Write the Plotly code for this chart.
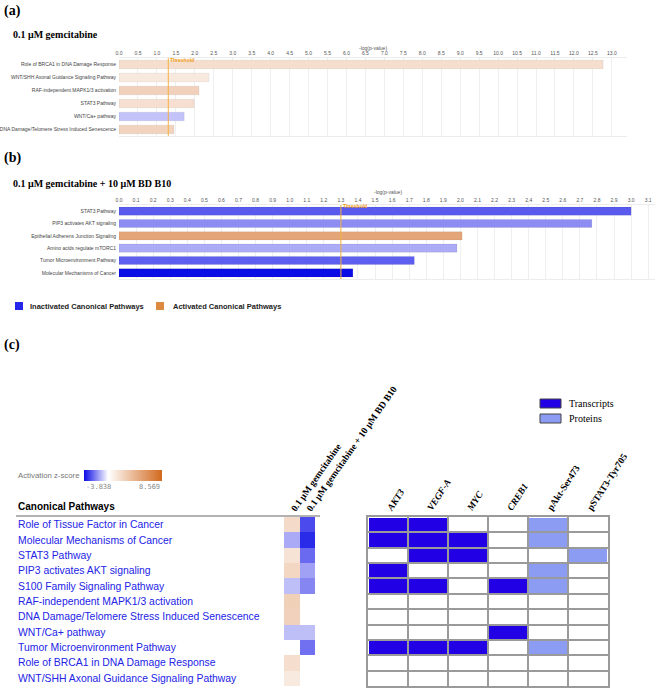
import plotly.graph_objects as go

W, H = 658, 689

# ---------------- data ----------------
# Panel (a): 0.1 uM gemcitabine
a_pathways = [
    "Role of BRCA1 in DNA Damage Response",
    "WNT/SHH Axonal Guidance Signaling Pathway",
    "RAF-independent MAPK1/3 activation",
    "STAT3 Pathway",
    "WNT/Ca+ pathway",
    "DNA Damage/Telomere Stress Induced Senescence",
]
a_logp = [12.77, 2.37, 2.11, 1.98, 1.72, 1.45]
a_zscore = [1.9, 1.25, 2.6, 1.8, -0.94, 2.5]

# Panel (b): 0.1 uM gemcitabine + 10 uM BD B10
b_pathways = [
    "STAT3 Pathway",
    "PIP3 activates AKT signaling",
    "Epithelial Adherens Junction Signaling",
    "Amino acids regulate mTORC1",
    "Tumor Microenvironment Pathway",
    "Molecular Mechanisms of Cancer",
]
b_logp = [3.00, 2.77, 2.01, 1.98, 1.73, 1.37]
b_zscore = [-2.59, -1.8, 5.1, -1.32, -2.52, -3.8]

threshold = 1.3

# Panel (c)
c_pathways = [
    "Role of Tissue Factor in Cancer",
    "Molecular Mechanisms of Cancer",
    "STAT3 Pathway",
    "PIP3 activates AKT signaling",
    "S100 Family Signaling Pathway",
    "RAF-independent MAPK1/3 activation",
    "DNA Damage/Telomere Stress Induced Senescence",
    "WNT/Ca+ pathway",
    "Tumor Microenvironment Pathway",
    "Role of BRCA1 in DNA Damage Response",
    "WNT/SHH Axonal Guidance Signaling Pathway",
]
c_conditions = ["0.1 μM gemcitabine", "0.1 μM gemcitabine + 10 μM BD B10"]
c_z_gem = [2.1, -1.33, 1.6, 2.3, -1.0, 2.7, 2.6, -1.0, None, 1.9, 1.2]
c_z_gem_bd = [-2.84, -3.34, -2.33, -1.49, -1.9, None, None, -1.0, -2.24, None, None]
z_min, z_max = -3.838, 8.569

c_markers = ["AKT3", "VEGF-A", "MYC", "CREB1", "pAkt-Ser473", "pSTAT3-Tyr705"]
c_marker_italic = [True, True, True, True, False, False]
# 0 = none, 1 = transcripts, 2 = proteins
c_evidence = [
    [1, 1, 0, 0, 2, 0],
    [1, 1, 1, 0, 2, 0],
    [0, 1, 1, 0, 0, 2],
    [1, 0, 0, 0, 2, 0],
    [1, 1, 0, 1, 2, 0],
    [0, 0, 0, 0, 0, 0],
    [0, 0, 0, 0, 0, 0],
    [0, 0, 0, 1, 0, 0],
    [1, 1, 1, 0, 2, 0],
    [0, 0, 0, 0, 0, 0],
    [0, 0, 0, 0, 0, 0],
]

# ---------------- helpers / styles ----------------
def px(x):
    return x / W

def py(y):
    return 1 - y / H

white_pos = -z_min / (z_max - z_min)
ZSCALE = [[0, "#0a0ae6"], [white_pos, "#ffffff"], [1, "#d2691e"]]
T_COL, P_COL = "#2200e6", "#8c9cf2"
SANS = "Liberation Sans, Arial, sans-serif"
SERIF = "Liberation Serif, Times New Roman, serif"

fig = go.Figure()

# Panel (a) bars
fig.add_trace(go.Bar(
    x=a_logp, y=a_pathways, orientation="h", width=0.66,
    marker=dict(color=a_zscore, colorscale=ZSCALE, cmin=z_min, cmax=z_max,
                line=dict(color="rgba(0,0,0,0.10)", width=0.6)),
    xaxis="x", yaxis="y", showlegend=False, hoverinfo="skip"))

# Panel (b) bars
fig.add_trace(go.Bar(
    x=b_logp, y=b_pathways, orientation="h", width=0.66,
    marker=dict(color=b_zscore, colorscale=ZSCALE, cmin=z_min, cmax=z_max,
                line=dict(color="rgba(0,0,0,0.10)", width=0.6)),
    xaxis="x2", yaxis="y2", showlegend=False, hoverinfo="skip"))

# Panel (c) z-score heatmap
fig.add_trace(go.Heatmap(
    z=[[g, b] for g, b in zip(c_z_gem, c_z_gem_bd)],
    x=c_conditions, y=c_pathways,
    colorscale=ZSCALE, zmin=z_min, zmax=z_max,
    xaxis="x3", yaxis="y3", hoverinfo="skip",
    colorbar=dict(orientation="h", x=px(123), xanchor="center", xref="paper",
                  y=py(481), yanchor="bottom", yref="paper",
                  len=78, lenmode="pixels", thickness=11, thicknessmode="pixels",
                  outlinewidth=0, showticklabels=False, ticks="", xpad=0, ypad=0)))

# Panel (c) evidence grid
fig.add_trace(go.Heatmap(
    z=c_evidence, x=c_markers, y=c_pathways,
    colorscale=[[0, "#ffffff"], [0.25, "#ffffff"], [0.25, T_COL], [0.75, T_COL],
                [0.75, P_COL], [1, P_COL]],
    zmin=0, zmax=2, xgap=2, ygap=2, showscale=False,
    xaxis="x4", yaxis="y4", hoverinfo="skip"))

bar_x_common = dict(side="top", showgrid=True, gridcolor="#efefef", gridwidth=1,
                    zeroline=False, showline=True, linecolor="#ececec", mirror=True,
                    ticks="", tick0=0, tickformat=".1f",
                    tickfont=dict(family=SANS, size=5, color="#555"))
bar_y_common = dict(autorange="reversed", showgrid=False, zeroline=False,
                    showline=False, ticks="", ticklabelstandoff=2,
                    tickfont=dict(family=SANS, size=5, color="#444"))

marker_ticktext = [
    ("<b><i>%s</i></b>" % m) if it else ("<b>%s</b>" % m)
    for m, it in zip(c_markers, c_marker_italic)
]

fig.update_layout(
    width=W, height=H, autosize=False,
    margin=dict(l=0, r=0, t=0, b=0, autoexpand=False),
    paper_bgcolor="white", plot_bgcolor="white",
    bargap=0.3,
    xaxis=dict(domain=[px(119), px(627)], range=[0, 13.4], dtick=0.5, anchor="y", **bar_x_common),
    yaxis=dict(domain=[py(136), py(58)], anchor="x", **bar_y_common),
    xaxis2=dict(domain=[px(119), px(655)], range=[0, 3.14], dtick=0.1, anchor="y2", **bar_x_common),
    yaxis2=dict(domain=[py(279), py(205)], anchor="x2", **bar_y_common),
    xaxis3=dict(domain=[px(284), px(315)], anchor="y3", side="top", type="category",
                tickangle=-55, ticks="", showgrid=False, zeroline=False, showline=False,
                tickvals=c_conditions, ticktext=["<b>%s</b>" % c for c in c_conditions],
                tickfont=dict(family=SERIF, size=9.5, color="black")),
    yaxis3=dict(domain=[py(686), py(517)], anchor="x3", type="category",
                autorange="reversed", showticklabels=False, ticks="",
                showgrid=False, zeroline=False, showline=False),
    xaxis4=dict(domain=[px(368), px(608)], anchor="y4", side="top", type="category",
                tickson="boundaries", showgrid=True, gridcolor="#9a9a9a", gridwidth=1.5,
                showline=True, mirror=True, linecolor="#9a9a9a", linewidth=1.5,
                tickangle=-57, ticks="", zeroline=False, ticklabelstandoff=-2,
                tickvals=c_markers, ticktext=marker_ticktext,
                tickfont=dict(family=SERIF, size=9.5, color="black")),
    yaxis4=dict(domain=[py(686), py(517)], anchor="x4", type="category",
                autorange="reversed", tickson="boundaries", showticklabels=False,
                ticks="", showgrid=True, gridcolor="#9a9a9a", gridwidth=1.5,
                showline=True, mirror=True, linecolor="#9a9a9a", linewidth=1.5,
                zeroline=False),
)

ann = []
shapes = []

def text(x, y, s, size, family=SANS, color="black", xanchor="left", yanchor="middle", **kw):
    ann.append(dict(x=px(x), y=py(y), xref="paper", yref="paper", text=s,
                    showarrow=False, xanchor=xanchor, yanchor=yanchor,
                    font=dict(family=family, size=size, color=color), **kw))

# panel labels and titles
text(2, 11, "<b>(a)</b>", 14, SERIF)
text(11, 34, "<b>0.1 μM gemcitabine</b>", 10, SERIF)
text(2, 158, "<b>(b)</b>", 14, SERIF)
text(11, 183, "<b>0.1 μM gemcitabine + 10 μM BD B10</b>", 10, SERIF)
text(2, 345, "<b>(c)</b>", 14, SERIF)

# axis titles
text(373, 48, "-log(p-value)", 5, SANS, "#555", xanchor="center")
text(388, 192, "-log(p-value)", 5, SANS, "#555", xanchor="center")

# threshold lines + labels
for xr, yr, ysh in (("x", "y", -2), ("x2", "y2", -1)):
    shapes.append(dict(type="line", xref=xr, yref=yr + " domain", x0=threshold, x1=threshold,
                       y0=0, y1=1, line=dict(color="#f5b041", width=1), layer="above"))
    ann.append(dict(x=threshold, y=1, xref=xr, yref=yr + " domain", text="<b>Threshold</b>",
                    showarrow=False, xanchor="left", yanchor="middle", yshift=ysh,
                    font=dict(family=SANS, size=5, color="#f39c12")))

# legend of panel (b)
shapes.append(dict(type="rect", xref="paper", yref="paper", x0=px(15), x1=px(23),
                   y0=py(310), y1=py(302), fillcolor="#2626ea", line=dict(width=0)))
text(28, 306, "<b>Inactivated Canonical Pathways</b>", 7.5, SANS, "#222")
shapes.append(dict(type="rect", xref="paper", yref="paper", x0=px(156), x1=px(164),
                   y0=py(310), y1=py(302), fillcolor="#db8a3f", line=dict(width=0)))
text(171, 306, "<b>Activated Canonical Pathways</b>", 7.5, SANS, "#222")

# colorbar labels for panel (c)
text(16, 475, "Activation z-score", 7.8, SANS, "#777")
text(84, 487, "-3.838", 7, "DejaVu Sans Mono", "#888")
text(162, 487, "8.569", 7, "DejaVu Sans Mono", "#888", xanchor="right")

# Canonical Pathways header + rule
text(16, 506, "<b>Canonical Pathways</b>", 10, SANS, "black")
shapes.append(dict(type="line", xref="paper", yref="paper", x0=px(16), x1=px(320),
                   y0=py(516), y1=py(516), line=dict(color="#999", width=1.5)))

# pathway names, placed on the heatmap's category axis
for p in c_pathways:
    ann.append(dict(x=px(16), y=p, xref="paper", yref="y3", text=p, showarrow=False,
                    xanchor="left", yanchor="middle",
                    font=dict(family=SANS, size=10.4, color="#2323e6")))

# legend of evidence grid
shapes.append(dict(type="rect", xref="paper", yref="paper", x0=px(540), x1=px(561),
                   y0=py(408), y1=py(399), fillcolor=T_COL, line=dict(color="#444", width=1)))
text(567, 403.5, "Transcripts", 10, SERIF, "black")
shapes.append(dict(type="rect", xref="paper", yref="paper", x0=px(540), x1=px(561),
                   y0=py(423), y1=py(414), fillcolor=P_COL, line=dict(color="#444", width=1)))
text(567, 418.5, "Proteins", 10, SERIF, "black")

fig.update_layout(annotations=ann, shapes=shapes)

fig.write_html("out.html", config={"displayModeBar": False})
